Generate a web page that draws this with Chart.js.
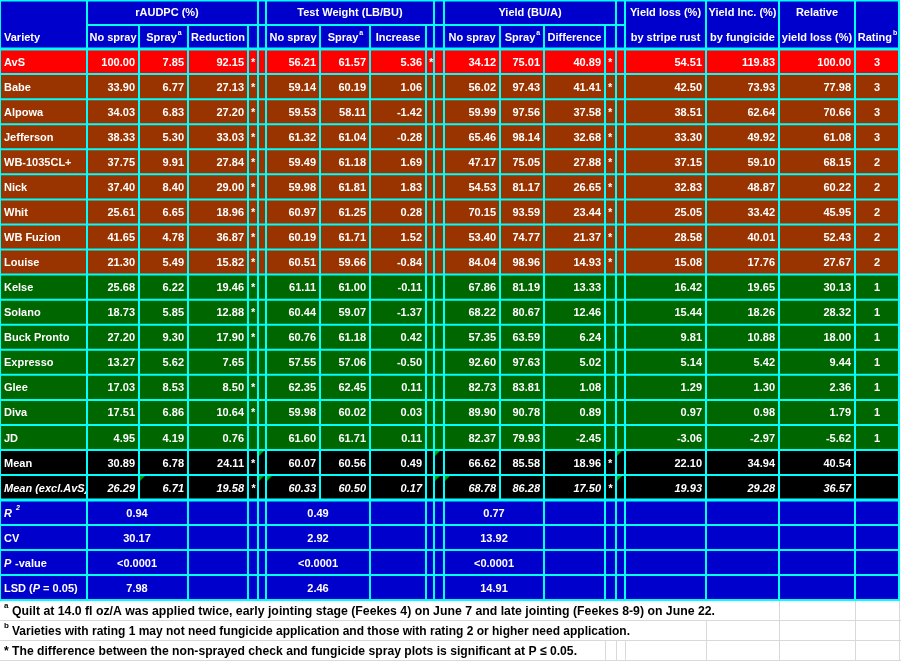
<!DOCTYPE html>
<html><head><meta charset="utf-8">
<script src="https://cdn.jsdelivr.net/npm/chart.js@4.4.0/dist/chart.umd.min.js"></script>
<style>html,body{margin:0;padding:0;background:#fff}canvas{display:block}</style>
</head><body>
<canvas id="c" width="901" height="662"></canvas>
<script>
const varieties = ["AvS","Babe","Alpowa","Jefferson","WB-1035CL+","Nick","Whit","WB Fuzion","Louise","Kelse","Solano","Buck Pronto","Expresso","Glee","Diva","JD","Mean","Mean (excl.AvS)"];
const rowGroup = ["r","b","b","b","b","b","b","b","b","g","g","g","g","g","g","g","k","k"];
const raudpcNo = ["100.00","33.90","34.03","38.33","37.75","37.40","25.61","41.65","21.30","25.68","18.73","27.20","13.27","17.03","17.51","4.95","30.89","26.29"];
const raudpcSpray = ["7.85","6.77","6.83","5.30","9.91","8.40","6.65","4.78","5.49","6.22","5.85","9.30","5.62","8.53","6.86","4.19","6.78","6.71"];
const raudpcRed = ["92.15","27.13","27.20","33.03","27.84","29.00","18.96","36.87","15.82","19.46","12.88","17.90","7.65","8.50","10.64","0.76","24.11","19.58"];
const raudpcSig = ["*","*","*","*","*","*","*","*","*","*","*","*","","*","*","","*","*"];
const twNo = ["56.21","59.14","59.53","61.32","59.49","59.98","60.97","60.19","60.51","61.11","60.44","60.76","57.55","62.35","59.98","61.60","60.07","60.33"];
const twSpray = ["61.57","60.19","58.11","61.04","61.18","61.81","61.25","61.71","59.66","61.00","59.07","61.18","57.06","62.45","60.02","61.71","60.56","60.50"];
const twInc = ["5.36","1.06","-1.42","-0.28","1.69","1.83","0.28","1.52","-0.84","-0.11","-1.37","0.42","-0.50","0.11","0.03","0.11","0.49","0.17"];
const twSig = ["*","","","","","","","","","","","","","","","","",""];
const yNo = ["34.12","56.02","59.99","65.46","47.17","54.53","70.15","53.40","84.04","67.86","68.22","57.35","92.60","82.73","89.90","82.37","66.62","68.78"];
const ySpray = ["75.01","97.43","97.56","98.14","75.05","81.17","93.59","74.77","98.96","81.19","80.67","63.59","97.63","83.81","90.78","79.93","85.58","86.28"];
const yDiff = ["40.89","41.41","37.58","32.68","27.88","26.65","23.44","21.37","14.93","13.33","12.46","6.24","5.02","1.08","0.89","-2.45","18.96","17.50"];
const ySig = ["*","*","*","*","*","*","*","*","*","","","","","","","","*","*"];
const yieldLoss = ["54.51","42.50","38.51","33.30","37.15","32.83","25.05","28.58","15.08","16.42","15.44","9.81","5.14","1.29","0.97","-3.06","22.10","19.93"];
const yieldInc = ["119.83","73.93","62.64","49.92","59.10","48.87","33.42","40.01","17.76","19.65","18.26","10.88","5.42","1.30","0.98","-2.97","34.94","29.28"];
const relLoss = ["100.00","77.98","70.66","61.08","68.15","60.22","45.95","52.43","27.67","30.13","28.32","18.00","9.44","2.36","1.79","-5.62","40.54","36.57"];
const rating = ["3","3","3","3","2","2","2","2","2","1","1","1","1","1","1","1","",""];
const statLabels = ["R2","CV","P-value","LSD (P = 0.05)"];
const statRaudpc = ["0.94","30.17","<0.0001","7.98"];
const statTw = ["0.49","2.92","<0.0001","2.46"];
const statYield = ["0.77","13.92","<0.0001","14.91"];
const footnotes = [
 ["a"," Quilt at 14.0 fl oz/A was applied twice, early jointing stage (Feekes 4) on June 7 and late jointing (Feekes 8-9) on June 22."],
 ["b"," Varieties with rating 1 may not need fungicide application and those with rating 2 or higher need application."],
 [""," * The difference between the non-sprayed check and fungicide spray plots is significant at P \u2264 0.05."]
];

const colX = [0,87,139,188,248,258,266,320,370,426,434,444,500,544,605,616,625,706,779,855,899];
const COL = {"r":"#ff0000","b":"#993300","g":"#006600","k":"#000000","h":"#0000cc"};
const FONT = "Liberation Sans, Arial, sans-serif";

const tablePlugin = {
 id:"table",
 afterDraw(chart){
  const ctx = chart.ctx, xs = chart.scales.x, ys = chart.scales.y;
  const X = v => xs.getPixelForValue(v), Y = v => ys.getPixelForValue(v);
  const rowTop = i => Y(49 + i*25.0625);
  const rowsTop = r => r<16 ? rowTop(r) : Y(450 + (r-16)*25);
  ctx.save();
  ctx.fillStyle="#fff"; ctx.fillRect(0,0,chart.width,chart.height);
  ctx.fillStyle=COL.h; ctx.fillRect(X(0),Y(0),X(899)-X(0),Y(49)-Y(0));
  const nData = varieties.length;
  for(let r=0;r<nData;r++){
   ctx.fillStyle=COL[rowGroup[r]];
   ctx.fillRect(X(0),rowsTop(r),X(899)-X(0),rowsTop(r+1)-rowsTop(r));
  }
  ctx.fillStyle=COL.h; ctx.fillRect(X(0),Y(500),X(899)-X(0),Y(600)-Y(500));
  ctx.strokeStyle="#d9d9d9"; ctx.lineWidth=1;
  const fnEnds=[715,632,580];
  for(let f=0;f<3;f++){
   const y0=Y(600+f*20), y1=Y(620+f*20);
   ctx.beginPath(); ctx.moveTo(X(0),y1+0.5); ctx.lineTo(X(901),y1+0.5); ctx.stroke();
   colX.forEach(c=>{ if(c>fnEnds[f]){ctx.beginPath();ctx.moveTo(X(c)+0.5,y0);ctx.lineTo(X(c)+0.5,y1);ctx.stroke();}});
  }
  ctx.strokeStyle="#00ffff"; ctx.lineWidth=2;
  const line=(x0,y0,x1,y1)=>{ctx.beginPath();ctx.moveTo(x0,y0);ctx.lineTo(x1,y1);ctx.stroke();};
  line(X(0),Y(0.5),X(900),Y(0.5));
  line(X(87),Y(25),X(625),Y(25));
  for(let r=0;r<=nData;r++) line(X(0),rowsTop(r),X(900),rowsTop(r));
  for(let s=0;s<=4;s++) line(X(0),Y(500+s*25),X(900),Y(500+s*25));
  ctx.lineWidth=3; line(X(0),Y(49),X(900),Y(49)); line(X(0),Y(500),X(900),Y(500)); ctx.lineWidth=2;
  const groupB=[0,87,258,266,434,444,616,625,706,779,855,899];
  colX.forEach(c=>{
   const yTop = groupB.includes(c) ? Y(0) : Y(25);
   line(X(c),yTop,X(c),Y(500));
   if(![139,320,500].includes(c)) line(X(c),Y(500),X(c),Y(600));
  });
  // small green indicator triangles
  ctx.fillStyle="#00a000";
  const tri=(x,y)=>{ctx.beginPath();ctx.moveTo(X(x)+1,Y(y)+1);ctx.lineTo(X(x)+6,Y(y)+1);ctx.lineTo(X(x)+1,Y(y)+6);ctx.fill();};
  [[258,450],[434,450],[616,450],[139,475],[258,475],[266,475],[434,475],[444,475],[616,475]].forEach(p=>tri(p[0],p[1]));
  ctx.fillStyle="#fff"; ctx.textBaseline="middle";
  const font=(it)=>ctx.font=(it?"italic ":"")+"bold 11px "+FONT;
  const txt=(s,x,y,al)=>{ctx.textAlign=al;ctx.fillText(s,x,y);};
  const sup=(base,s,x,y)=>{
   font(false); const w=ctx.measureText(base).width; ctx.font="bold 7px "+FONT; const w2=ctx.measureText(s).width;
   const x0=x-(w+w2)/2; font(false); txt(base,x0,y,"left"); ctx.font="bold 7px "+FONT; txt(s,x0+w+1,y-5,"left"); font(false);
  };
  font(false);
  const hy1=Y(13), hy2=Y(38);
  txt("Variety",X(4),hy2,"left");
  txt("rAUDPC (%)",X(167),hy1,"center");
  txt("Test Weight (LB/BU)",X(350),hy1,"center");
  txt("Yield (BU/A)",X(530),hy1,"center");
  const subs=[[87,139,"No spray"],[139,188,"Spray","a"],[188,248,"Reduction"],[266,320,"No spray"],[320,370,"Spray","a"],[370,426,"Increase"],[444,500,"No spray"],[500,544,"Spray","a"],[544,605,"Difference"]];
  subs.forEach(s=>{const cx=X((s[0]+s[1])/2); if(s[3]) sup(s[2],s[3],cx,hy2); else txt(s[2],cx,hy2,"center");});
  txt("Yield loss (%)",X(665.5),hy1,"center"); txt("by stripe rust",X(665.5),hy2,"center");
  txt("Yield Inc. (%)",X(742.5),hy1,"center"); txt("by fungicide",X(742.5),hy2,"center");
  txt("Relative",X(817),hy1,"center"); txt("yield loss (%)",X(817),hy2,"center");
  sup("Rating","b",X(877),hy2);
  const right=[[raudpcNo,139],[raudpcSpray,188],[raudpcRed,248],[twNo,320],[twSpray,370],[twInc,426],[yNo,500],[ySpray,544],[yDiff,605],[yieldLoss,706],[yieldInc,779],[relLoss,855]];
  const stars=[[raudpcSig,248],[twSig,426],[ySig,605]];
  for(let r=0;r<nData;r++){
   const it = r===17; font(it);
   const cy=(rowsTop(r)+rowsTop(r+1))/2+1;
   ctx.save(); ctx.beginPath(); ctx.rect(X(0),rowsTop(r),X(87)-X(0)-1,30); ctx.clip();
   txt(varieties[r],X(4),cy,"left"); ctx.restore();
   right.forEach(([arr,xr])=>txt(arr[r],X(xr-4),cy,"right"));
   stars.forEach(([arr,xl])=>txt(arr[r],X(xl+3),cy,"left"));
   font(false); txt(rating[r],X(877),cy,"center");
  }
  for(let s=0;s<4;s++){
   const cy=Y(512.5+s*25)+1; font(false);
   const lab=statLabels[s];
   if(s===0){ font(true); txt("R",X(4),cy,"left"); ctx.font="italic bold 7px "+FONT; txt("2",X(16),cy-5,"left"); font(false);}
   else if(s===2){ font(true); txt("P",X(4),cy,"left"); font(false); txt(" -value",X(12),cy,"left");}
   else if(s===3){ font(false); txt("LSD (",X(4),cy,"left"); let w=ctx.measureText("LSD (").width; font(true); txt("P",X(4)+w,cy,"left"); w+=ctx.measureText("P").width; font(false); txt(" = 0.05)",X(4)+w,cy,"left");}
   else txt(lab,X(4),cy,"left");
   txt(statRaudpc[s],X(137),cy,"center");
   txt(statTw[s],X(318),cy,"center");
   txt(statYield[s],X(494),cy,"center");
  }
  ctx.fillStyle="#000";
  const fnW=[715,630,577];
  footnotes.forEach((f,i)=>{
   const cy=Y(611+i*20);
   ctx.font="bold 8px "+FONT; ctx.textAlign="left";
   let x=X(4);
   if(f[0]){ ctx.fillText(f[0],x,cy-5); x+=8; }
   ctx.font="bold 13px 'Liberation Sans Narrow', "+FONT;
   ctx.fillText(f[1].replace(/^ /,""),x,cy,X(fnW[i])-x);
  });
  ctx.restore();
 }
};

new Chart(document.getElementById("c"),{
 type:"scatter",
 data:{datasets:[{data:[],pointRadius:0}]},
 options:{responsive:false,animation:false,devicePixelRatio:1,
  layout:{padding:0},
  plugins:{legend:{display:false},tooltip:{enabled:false}},
  scales:{x:{type:"linear",min:0,max:901,display:false},y:{type:"linear",min:0,max:662,reverse:true,display:false}}},
 plugins:[tablePlugin]
});
</script>
</body></html>
